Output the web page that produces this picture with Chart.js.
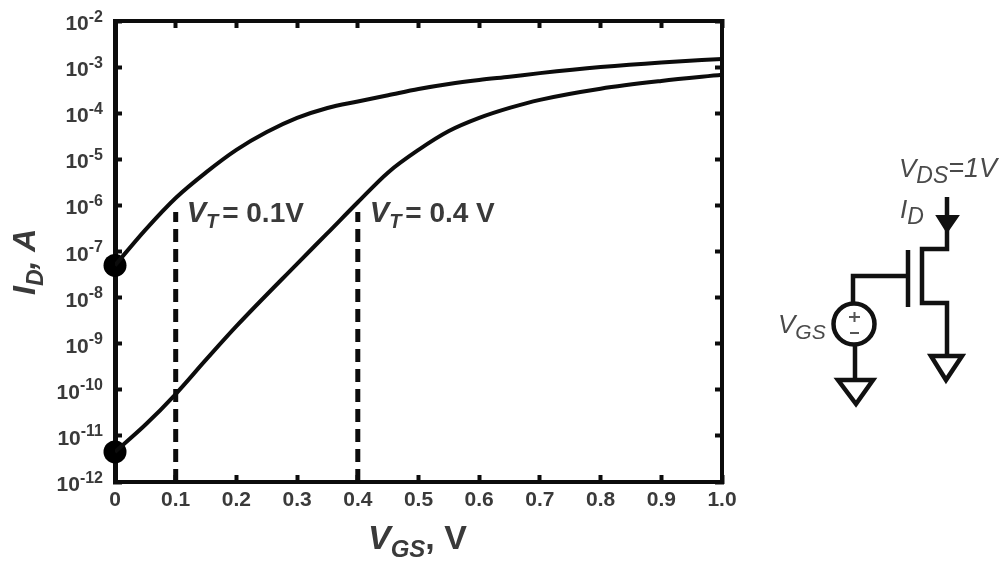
<!DOCTYPE html>
<html>
<head>
<meta charset="utf-8">
<style>
  html, body { margin: 0; padding: 0; background: #fff; overflow: hidden; }
  #wrap { position: relative; width: 1001px; height: 562px; filter: blur(0.7px); }
  canvas { position: absolute; left: 0; top: 0; }
  svg { position: absolute; left: 0; top: 0; }
  svg text { font-family: "Liberation Sans", sans-serif; font-style: italic; fill: #4a4a4a; }
</style>
</head>
<body>
<div id="wrap">
  <canvas id="myChart" width="1001" height="562"></canvas>
  <svg width="1001" height="562" fill="none" stroke="#111" stroke-width="4.5">
    <!-- drain side -->
    <path d="M947 197V249H922V303H947V355"/>
    <path d="M937 216H958L947 232Z" fill="#111" stroke-width="2"/>
    <path d="M908 250V307"/>
    <!-- gate + source -->
    <path d="M908 276H853V304"/>
    <circle cx="854" cy="324" r="20.5"/>
    <path d="M855 344V380"/>
    <path d="M838 380H873L856 404Z"/>
    <path d="M931 356H962L946 380Z"/>
    <path d="M849 317H860M854.5 312V322M850 333H859" stroke-width="2" stroke="#555"/>
    <g stroke="none">
      <text x="899" y="177" font-size="26">V<tspan font-size="23" dy="6">DS</tspan><tspan dy="-6" font-size="27">=1V</tspan></text>
      <text x="900" y="218" font-size="26">I<tspan font-size="23" dy="6">D</tspan></text>
      <text x="778" y="333" font-size="26">V<tspan font-size="21" dy="6">GS</tspan></text>
    </g>
  </svg>
</div>

<script src="https://cdn.jsdelivr.net/npm/chart.js@4"></script>
<script>
const vgs = [0, 0.05, 0.1, 0.15, 0.2, 0.25, 0.3, 0.35, 0.4, 0.45, 0.5, 0.55, 0.6, 0.65, 0.7, 0.8, 0.9, 1.0]
const idLowVt = [5e-8, 2.95e-7, 1.45e-6, 5.2e-6, 1.6e-5, 3.9e-5, 7.9e-5, 1.3e-4, 1.8e-4, 2.45e-4, 3.35e-4, 4.3e-4, 5.25e-4, 6.2e-4, 7.4e-4, 1e-3, 1.26e-3, 1.5e-3]
const vgsHigh = [0, 0.05, 0.1, 0.15, 0.2, 0.3, 0.35, 0.4, 0.45, 0.5, 0.55, 0.6, 0.65, 0.7, 0.8, 0.9, 1.0]
const idHighVt = [4.5e-12, 1.74e-11, 8.1e-11, 4.5e-10, 2.4e-9, 5.4e-8, 2.5e-7, 1.17e-6, 5.2e-6, 1.6e-5, 4.1e-5, 7.9e-5, 1.3e-4, 1.95e-4, 3.4e-4, 5e-4, 6.8e-4]

const xTicks = [0, 0.1, 0.2, 0.3, 0.4, 0.5, 0.6, 0.7, 0.8, 0.9, 1.0]
const xTickLabels = ['0', '0.1', '0.2', '0.3', '0.4', '0.5', '0.6', '0.7', '0.8', '0.9', '1.0']
const yTicks = [1e-2, 1e-3, 1e-4, 1e-5, 1e-6, 1e-7, 1e-8, 1e-9, 1e-10, 1e-11, 1e-12]
const yExponents = ['-2', '-3', '-4', '-5', '-6', '-7', '-8', '-9', '-10', '-11', '-12']

const vtLow = [0.1, 0.1]
const vtHigh = [0.4, 0.4]
const vtRange = [1e-12, 7.2e-7]
const startVgs = [0, 0]
const startId = [5e-8, 4.5e-12]

const ink = '#0c0c0c'
const labelInk = '#3a3a3a'
const fontName = '"Liberation Sans", sans-serif'

const toPoints = (xs, ys) => xs.map((x, i) => ({ x: x, y: ys[i] }))

// runs of text with sub/superscripts, drawn one after the other
const drawRuns = (c, x, y, runs) => {
  runs.forEach(r => {
    c.font = r.font
    c.fillText(r.text, x, y + (r.dy || 0))
    x += c.measureText(r.text).width
  })
}

const note = 'bold 28px ' + fontName
const noteI = 'italic bold 29px ' + fontName
const noteS = 'italic bold 20px ' + fontName
const noteGap = 'bold 14px ' + fontName

const labelsPlugin = {
  id: 'labels',
  afterDraw(chart) {
    const c = chart.ctx
    const sx = chart.scales.x
    const sy = chart.scales.y
    c.save()
    c.fillStyle = labelInk
    c.textBaseline = 'alphabetic'

    // y tick labels: 10 with the exponent raised, right aligned
    yTicks.forEach((v, i) => {
      const py = sy.getPixelForValue(v)
      c.textAlign = 'right'
      c.font = 'bold 16px ' + fontName
      c.fillText(yExponents[i], 103, py + 0.5)
      const w = c.measureText(yExponents[i]).width
      c.font = 'bold 21px ' + fontName
      c.fillText('10', 103 - w, py + 9)
    })

    c.textAlign = 'left'
    drawRuns(c, sx.getPixelForValue(0.1) + 11, 222, [
      { text: 'V', font: noteI }, { text: 'T', font: noteS, dy: 6 }, { text: ' ', font: noteGap }, { text: '= 0.1V', font: note }
    ])
    drawRuns(c, sx.getPixelForValue(0.4) + 12, 222, [
      { text: 'V', font: noteI }, { text: 'T', font: noteS, dy: 6 }, { text: ' ', font: noteGap }, { text: '= 0.4 V', font: note }
    ])

    drawRuns(c, 368, 549, [
      { text: 'V', font: 'italic bold 34px ' + fontName },
      { text: 'GS', font: 'italic bold 24px ' + fontName, dy: 8 },
      { text: ', V', font: 'bold 34px ' + fontName }
    ])

    c.translate(35, 295)
    c.rotate(-Math.PI / 2)
    drawRuns(c, 0, 0, [
      { text: 'I', font: 'italic bold 32px ' + fontName },
      { text: 'D', font: 'italic bold 23px ' + fontName, dy: 8 },
      { text: ', A', font: 'italic bold 32px ' + fontName }
    ])
    c.restore()
  }
}

const inwardGrid = { drawOnChartArea: false, tickLength: -7, tickWidth: 4, tickColor: ink }

const yAxis = (position, width) => ({
  type: 'logarithmic',
  position: position,
  min: 1e-12,
  max: 1e-2,
  border: { color: ink, width: position === 'left' ? 5 : 4 },
  grid: inwardGrid,
  ticks: { display: false },
  afterBuildTicks: s => { s.ticks = yTicks.map(v => ({ value: v })) },
  afterFit: s => { s.width = width }
})

const xAxis = (position, height, showLabels) => ({
  type: 'linear',
  position: position,
  min: 0,
  max: 1,
  border: { color: ink, width: 4 },
  grid: inwardGrid,
  ticks: {
    display: showLabels,
    padding: 13,
    color: labelInk,
    maxRotation: 0,
    autoSkip: false,
    font: { family: fontName, weight: 'bold', size: 21 },
    callback: (v, i) => xTickLabels[i]
  },
  afterBuildTicks: s => { s.ticks = xTicks.map(v => ({ value: v })) },
  afterFit: s => { s.height = height }
})

const curve = (label, xs, ys) => ({
  label: label,
  data: toPoints(xs, ys),
  showLine: true,
  borderColor: ink,
  borderWidth: 4,
  pointRadius: 0,
  cubicInterpolationMode: 'monotone'
})

const dashed = (label, xs) => ({
  label: label,
  data: toPoints(xs, vtRange),
  showLine: true,
  borderColor: ink,
  borderWidth: 5,
  borderDash: [13, 7],
  pointRadius: 0
})

let myChart = new Chart(document.getElementById('myChart'), {
  type: 'scatter',
  data: {
    datasets: [
      curve('VT = 0.1 V', vgs, idLowVt),
      curve('VT = 0.4 V', vgsHigh, idHighVt),
      dashed('VT 0.1', vtLow),
      dashed('VT 0.4', vtHigh),
      {
        label: 'start',
        data: toPoints(startVgs, startId),
        pointRadius: 11.5,
        pointBackgroundColor: '#000',
        pointBorderWidth: 0,
        clip: false
      }
    ]
  },
  options: {
    responsive: false,
    animation: false,
    layout: { padding: 0 },
    plugins: { legend: { display: false }, tooltip: { enabled: false } },
    scales: {
      x: xAxis('bottom', 80, true),
      x2: xAxis('top', 21, false),
      y: yAxis('left', 115),
      y2: yAxis('right', 279)
    }
  },
  plugins: [labelsPlugin]
})
</script>
</body>
</html>
